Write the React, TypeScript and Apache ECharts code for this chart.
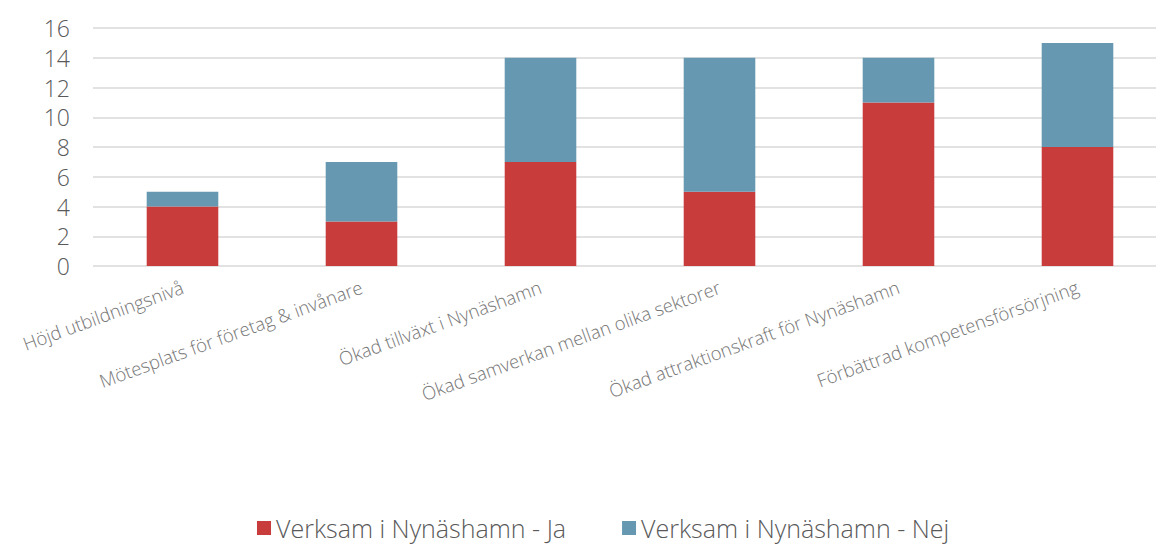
import React, { useEffect, useRef } from "react";
import * as echarts from "echarts";

const categories = [
  "Höjd utbildningsnivå",
  "Mötesplats för företag & invånare",
  "Ökad tillväxt i Nynäshamn",
  "Ökad samverkan mellan olika sektorer",
  "Ökad attraktionskraft för Nynäshamn",
  "Förbättrad kompetensförsörjning",
];
const jaValues = [4, 3, 7, 5, 11, 8];
const nejValues = [1, 4, 7, 9, 3, 7];
const seriesNames = ["Verksam i Nynäshamn - Ja", "Verksam i Nynäshamn - Nej"];

const FONT = "'Open Sans', 'Noto Sans', sans-serif";

export default function App() {
  const ref = useRef<HTMLDivElement>(null);
  useEffect(() => {
    if (!ref.current) return;
    const chart = echarts.init(ref.current, undefined, { renderer: "svg" });
    chart.setOption({
      animation: false,
      textStyle: { fontFamily: FONT },
      grid: { left: 93, right: 0, top: 28, bottom: 279, containLabel: false },
      legend: {
        bottom: 3,
        left: 252,
        padding: [0, 5, 0, 5],
        itemWidth: 14,
        itemHeight: 14,
        itemGap: 56,
        icon: "rect",
        textStyle: { fontFamily: FONT, fontSize: 25, color: "#595959", fontWeight: 300, lineHeight: 28 },
        data: seriesNames,
      },
      xAxis: {
        type: "category",
        data: categories,
        axisLine: { show: false },
        axisTick: { show: false },
        axisLabel: {
          rotate: 20,
          interval: 0,
          margin: 20,
          fontSize: 18.5,
          color: "#767676",
          fontFamily: FONT,
          fontWeight: 300,
        },
      },
      yAxis: {
        type: "value",
        min: 0,
        max: 16,
        interval: 2,
        axisLine: { show: false },
        axisTick: { show: false },
        splitLine: { lineStyle: { color: "#d9d9d9", width: 1.5 } },
        axisLabel: {
          fontSize: 23,
          color: "#595959",
          margin: 23,
          fontFamily: FONT,
          fontWeight: 300,
        },
      },
      series: [
        {
          name: seriesNames[0],
          type: "bar",
          stack: "total",
          data: jaValues,
          barWidth: "40%",
          itemStyle: { color: "#C83C3C" },
        },
        {
          name: seriesNames[1],
          type: "bar",
          stack: "total",
          data: nejValues,
          barWidth: "40%",
          itemStyle: { color: "#6699B1" },
        },
      ],
    });
    return () => chart.dispose();
  }, []);
  return (
    <div
      style={{ position: "fixed", left: 0, top: 0, width: 1156, height: 545, overflow: "hidden", background: "#fff" }}
    >
      <div ref={ref} style={{ width: 1167, height: 545 }} />
    </div>
  );
}
